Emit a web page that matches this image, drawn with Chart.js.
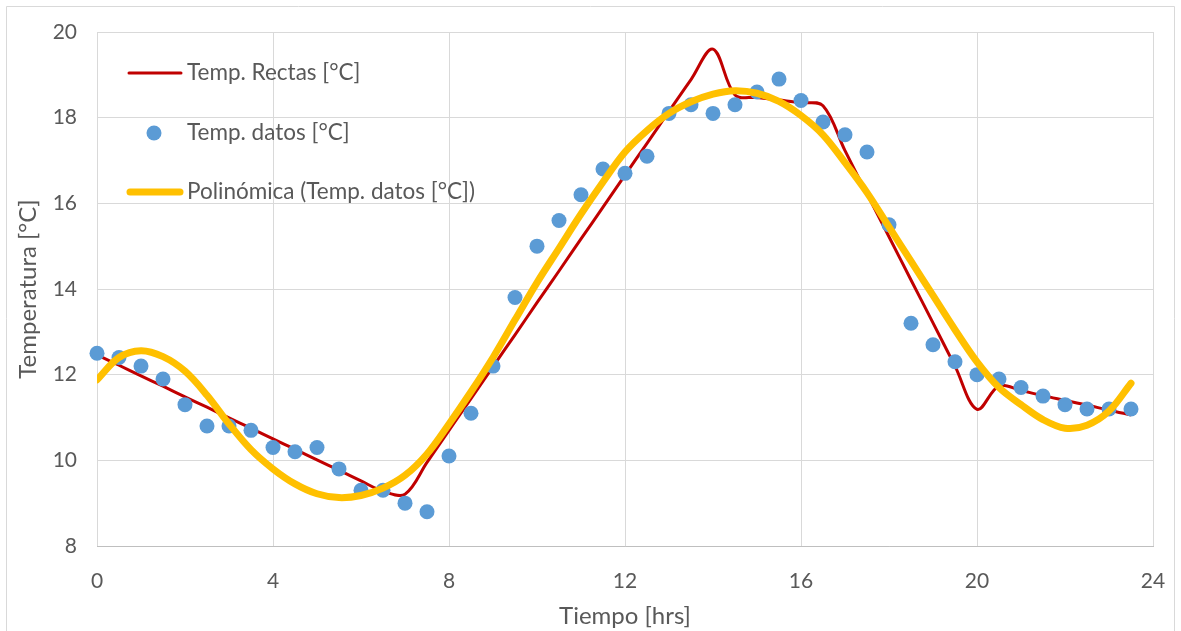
<!DOCTYPE html>
<html><head><meta charset="utf-8">
<script src="https://cdn.jsdelivr.net/npm/chart.js@4.4.0/dist/chart.umd.min.js"></script>
<style>html,body{margin:0;padding:0;background:#fff}#wrap{width:1181px;height:631px;position:relative}</style>
</head><body><div id="wrap"><canvas id="c"></canvas></div>
<script>
const hours = [0,0.5,1,1.5,2,2.5,3,3.5,4,4.5,5,5.5,6,6.5,7,7.5,8,8.5,9,9.5,10,10.5,11,11.5,12,12.5,13,13.5,14,14.5,15,15.5,16,16.5,17,17.5,18,18.5,19,19.5,20,20.5,21,21.5,22,22.5,23,23.5];
const tempDatos = [12.5,12.4,12.2,11.9,11.3,10.8,10.8,10.7,10.3,10.2,10.3,9.8,9.3,9.3,9.0,8.8,10.1,11.1,12.2,13.8,15.0,15.6,16.2,16.8,16.7,17.1,18.1,18.3,18.1,18.3,18.6,18.9,18.4,17.9,17.6,17.2,15.5,13.2,12.7,12.3,12.0,11.9,11.7,11.5,11.3,11.2,11.2,11.2];
const tempRectas = [12.46,12.22,11.97,11.73,11.48,11.24,10.99,10.75,10.50,10.26,10.01,9.77,9.52,9.28,9.21,9.95,10.70,11.44,12.19,12.93,13.68,14.42,15.17,15.91,16.66,17.40,18.15,18.89,19.6,18.53,18.47,18.41,18.35,18.28,17.23,16.22,15.22,14.21,13.21,12.20,11.19,11.74,11.63,11.51,11.40,11.29,11.17,11.06];
const tempPolinomica = [11.88,12.4,12.56,12.42,12.08,11.52,10.85,10.25,9.8,9.45,9.22,9.13,9.18,9.35,9.65,10.15,10.85,11.6,12.4,13.28,14.15,14.95,15.75,16.5,17.2,17.7,18.1,18.37,18.55,18.63,18.57,18.38,18.05,17.6,16.95,16.25,15.45,14.65,13.85,13.05,12.3,11.7,11.3,10.95,10.75,10.82,11.15,11.8];
const xTicks = [0,4,8,12,16,20,24];
const yTicks = [8,10,12,14,16,18,20];
const seriesNames = ['Temp. Rectas [°C]','Temp. datos [°C]','Polinómica (Temp. datos [°C])'];

const toXY = arr => arr.map((v,i)=>({x:hours[i], y:v}));
const FONT = 'Lato, "Liberation Sans", sans-serif';
const TXT = '#595959';

const bgPlugin = {
  id:'bg',
  beforeDraw(chart){
    const c = chart.ctx; c.save();
    c.fillStyle='#fff'; c.fillRect(0,0,chart.width,chart.height);
    c.strokeStyle='#d9d9d9'; c.lineWidth=1;
    c.beginPath(); c.moveTo(6.5,chart.height); c.lineTo(6.5,6.5); c.lineTo(1174.5,6.5); c.lineTo(1174.5,chart.height); c.stroke();
    c.restore();
  }
};
const legendPlugin = {
  id:'customLegend',
  afterDraw(chart){
    const c = chart.ctx; c.save();
    c.lineCap='round';
    c.strokeStyle='#c00000'; c.lineWidth=3;
    c.beginPath(); c.moveTo(129,73); c.lineTo(181,73); c.stroke();
    c.fillStyle='#5b9bd5';
    c.beginPath(); c.arc(154,133,7.5,0,Math.PI*2); c.fill();
    c.strokeStyle='#ffc000'; c.lineWidth=7;
    c.beginPath(); c.moveTo(130,192); c.lineTo(180,192); c.stroke();
    c.fillStyle=TXT; c.font='22.5px '+FONT; c.textBaseline='middle'; c.textAlign='left';
    c.fillText(seriesNames[0],187,73);
    c.fillText(seriesNames[1],187,133);
    c.fillText(seriesNames[2],187,192);
    c.restore();
  }
};

new Chart(document.getElementById('c'), {
  type:'scatter',
  data:{ datasets:[
    {label:seriesNames[2], data:toXY(tempPolinomica), showLine:true, borderColor:'#ffc000', borderWidth:7, pointRadius:0, tension:0.35, fill:false, borderCapStyle:'round'},
    {label:seriesNames[1], data:toXY(tempDatos), showLine:false, backgroundColor:'#5b9bd5', borderWidth:0, pointRadius:7.5, pointHoverRadius:7.5, clip:false},
    {label:seriesNames[0], data:toXY(tempRectas), showLine:true, borderColor:'#c00000', borderWidth:3, pointRadius:0, tension:0.35, fill:false}
  ]},
  options:{
    responsive:true, maintainAspectRatio:false, animation:false,
    layout:{padding:{top:32,right:28,left:0,bottom:0}},
    plugins:{legend:{display:false}, tooltip:{enabled:false}},
    scales:{
      x:{type:'linear', min:0, max:24,
        afterBuildTicks(s){ s.ticks = xTicks.map(v=>({value:v})); },
        afterFit(s){ s.height = 85; s.paddingLeft = 0; s.paddingRight = 0; },
        grid:{color:'#d9d9d9', lineWidth:1, drawTicks:false},
        border:{color:'#bfbfbf', width:1},
        ticks:{color:TXT, font:{family:FONT,size:21}, padding:23, maxRotation:0},
        title:{display:true, text:'Tiempo [hrs]', color:TXT, font:{family:FONT,size:24}, padding:{top:0,bottom:0}}
      },
      y:{type:'linear', min:8, max:20,
        afterBuildTicks(s){ s.ticks = yTicks.map(v=>({value:v})); },
        afterFit(s){ s.width = 97; s.paddingTop = 0; s.paddingBottom = 0; },
        grid:{color:'#d9d9d9', lineWidth:1, drawTicks:false},
        border:{display:false},
        ticks:{color:TXT, font:{family:FONT,size:21}, padding:20},
        title:{display:true, text:'Temperatura [°C]', color:TXT, font:{family:FONT,size:24}, padding:{top:14,bottom:0}}
      }
    }
  },
  plugins:[bgPlugin, legendPlugin]
});
</script></body></html>
